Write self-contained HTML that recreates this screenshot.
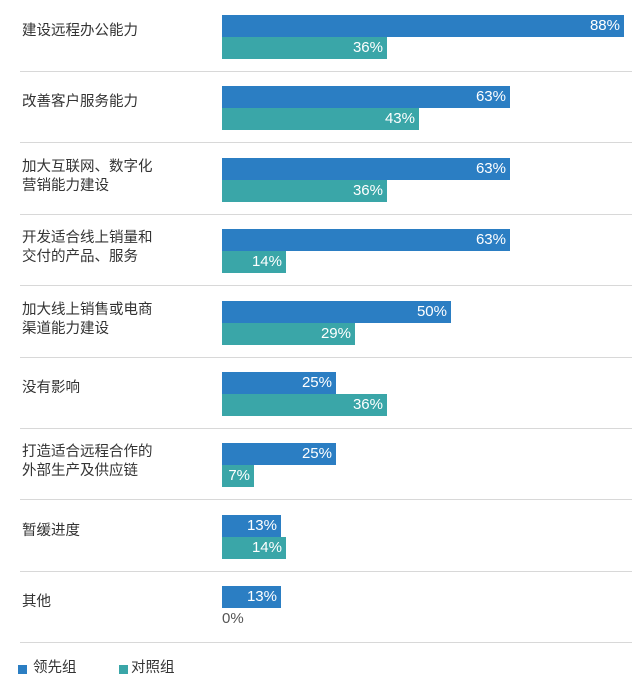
<!DOCTYPE html><html><head><meta charset="utf-8"><style>
body{margin:0;background:#fff;width:640px;height:686px;position:relative;overflow:hidden;font-family:"Liberation Sans","Noto Sans CJK SC",sans-serif}
.l{position:absolute;left:22px;font-size:14.5px;color:#333;line-height:19px}
.b{position:absolute;left:222px;height:22px;color:#fff;font-size:15px;line-height:22px;text-align:right;box-sizing:border-box;padding-right:4px}
.bl{background:#2b7ec3}.tl{background:#3aa6a8}
.s{position:absolute;left:20px;width:612px;height:1px;background:#d8d8d8}
</style></head><body>
<div id="c"></div>
<script>
var d=[["建设远程办公能力",88,36],["改善客户服务能力",63,43],["加大互联网、数字化<br>营销能力建设",63,36],["开发适合线上销量和<br>交付的产品、服务",63,14],["加大线上销售或电商<br>渠道能力建设",50,29],["没有影响",25,36],["打造适合远程合作的<br>外部生产及供应链",25,7],["暂缓进度",13,14],["其他",13,0]];
var h="",k=4.57;
d.forEach(function(r,i){var y=15+71.4*i;var two=r[0].indexOf("<br>")>0;
h+='<div class="l" style="top:'+(y+(two?0:7))+'px">'+r[0]+'</div>';
h+='<div class="b bl" style="top:'+y+'px;width:'+Math.round(r[1]*k)+'px">'+r[1]+'%</div>';
if(r[2]>0)h+='<div class="b tl" style="top:'+(y+22)+'px;width:'+Math.round(r[2]*k)+'px">'+r[2]+'%</div>';
else h+='<div class="b" style="top:'+(y+22)+'px;color:#555;text-align:left;padding:0">0%</div>';
h+='<div class="s" style="top:'+(y+56)+'px"></div>';});
h+='<div style="position:absolute;left:18px;top:665px;width:9px;height:9px;background:#2b7ec3"></div><div class="l" style="left:33px;top:659px">领先组</div>';
h+='<div style="position:absolute;left:119px;top:665px;width:9px;height:9px;background:#3aa6a8"></div><div class="l" style="left:131px;top:659px">对照组</div>';
document.getElementById("c").innerHTML=h;
</script></body></html>
